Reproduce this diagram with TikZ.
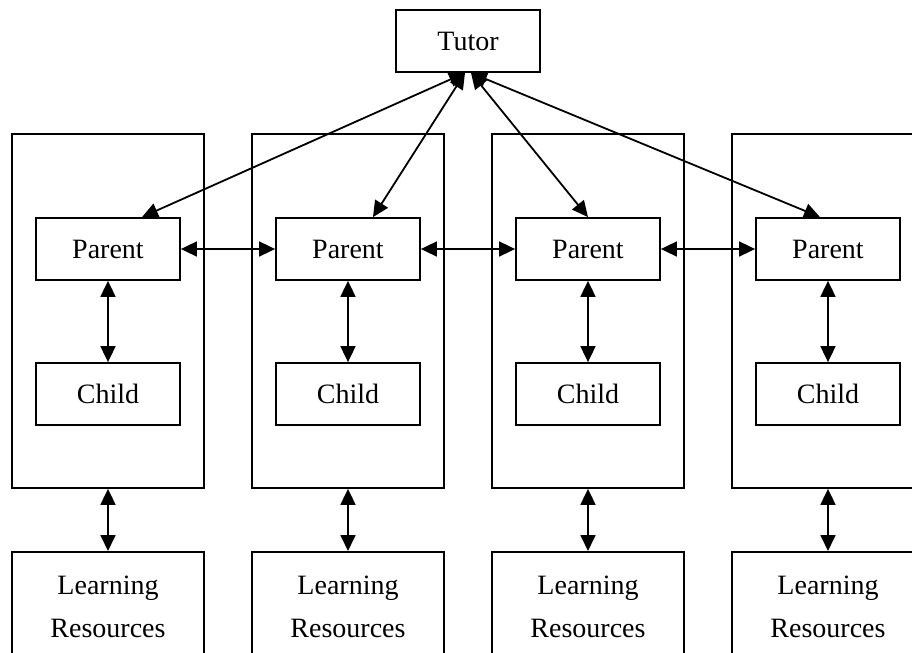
\documentclass[tikz,border=0pt]{standalone}
\usepackage{fontspec}
\setmainfont{Liberation Serif}
\usetikzlibrary{arrows.meta}

\tikzset{
    box/.style={draw, line width=0.9pt, minimum width=72pt, minimum height=31pt, inner sep=0pt, font=\fontsize{14}{21.5}\selectfont},
    group/.style={draw, line width=0.9pt, minimum width=96pt, minimum height=177pt, inner sep=0pt},
    resource/.style={box, minimum width=96pt, minimum height=55pt, align=center, anchor=north},
    link/.style={line width=0.9pt, {Triangle[length=8pt,width=7.5pt]}-{Triangle[length=8pt,width=7.5pt]}}
}

\begin{document}
\begin{tikzpicture}[x=0.5pt, y=-0.5pt]
    \useasboundingbox (0,0) rectangle (912,653);
    \clip (0,0) rectangle (912,653);
    % tutor
    \node[box] (tutor) at (468,41) {Tutor};
    % family groups
    \node[group] (g1) at (108,311) {};
    \node[group] (g2) at (348,311) {};
    \node[group] (g3) at (588,311) {};
    \node[group] (g4) at (828,311) {};
    \node[box] (p1) at (108,249) {Parent};
    \node[box] (p2) at (348,249) {Parent};
    \node[box] (p3) at (588,249) {Parent};
    \node[box] (p4) at (828,249) {Parent};
    \node[box] (c1) at (108,394) {Child};
    \node[box] (c2) at (348,394) {Child};
    \node[box] (c3) at (588,394) {Child};
    \node[box] (c4) at (828,394) {Child};
    % learning resources
    \node[resource] (r1) at (108,551) {Learning\\Resources};
    \node[resource] (r2) at (348,551) {Learning\\Resources};
    \node[resource] (r3) at (588,551) {Learning\\Resources};
    \node[resource] (r4) at (828,551) {Learning\\Resources};
    % links
    \draw[link] ([xshift=-1.5pt]tutor.south) -- ([xshift=17pt]p1.north);
    \draw[link] ([xshift=-1.5pt]tutor.south) -- ([xshift=12.5pt]p2.north);
    \draw[link] ([xshift=1.5pt]tutor.south) -- (p3.north);
    \draw[link] ([xshift=1.5pt]tutor.south) -- ([xshift=-4pt]p4.north);
    \draw[link] (p1) -- (p2);
    \draw[link] (p2) -- (p3);
    \draw[link] (p3) -- (p4);
    \draw[link] (p1) -- (c1);
    \draw[link] (p2) -- (c2);
    \draw[link] (p3) -- (c3);
    \draw[link] (p4) -- (c4);
    \draw[link] (g1) -- (r1);
    \draw[link] (g2) -- (r2);
    \draw[link] (g3) -- (r3);
    \draw[link] (g4) -- (r4);
\end{tikzpicture}
\end{document}
